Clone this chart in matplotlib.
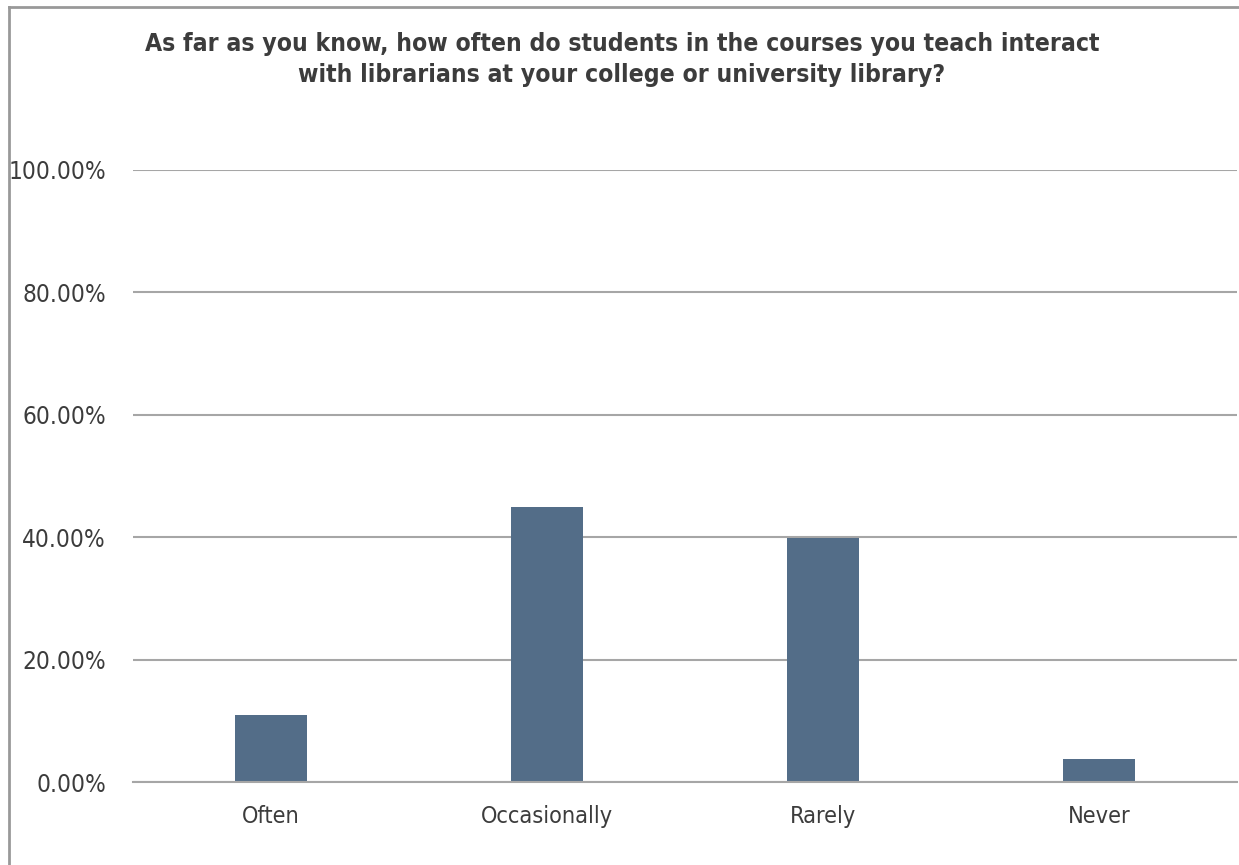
import matplotlib
matplotlib.use("Agg")
import matplotlib.pyplot as plt
from matplotlib.lines import Line2D
from matplotlib.ticker import PercentFormatter

categories = ["Often", "Occasionally", "Rarely", "Never"]
shares = [11.0, 45.0, 39.9, 3.8]
y_ticks = [0, 20, 40, 60, 80, 100]

title_lines = ["As far as you know, how often do students in the courses you teach interact",
               "with librarians at your college or university library?"]

plt.rcParams['font.family'] = ['DejaVu Sans']
plt.rcParams['font.stretch'] = 'condensed'
text_color = "#3c3c3c"
grid_color = "#a6a6a6"
bar_color = "#536d88"

W, H = 1239, 865
fig = plt.figure(figsize=(W / 100, H / 100), dpi=100)
ax = fig.add_axes([133 / W, 82.7 / H, 1104 / W, 612.7 / H])

x = range(len(categories))
ax.bar(x, shares, width=0.26, color=bar_color, zorder=3)

ax.set_xlim(-0.5, len(categories) - 0.5)
ax.set_ylim(0, 100)
ax.set_yticks(y_ticks)
ax.yaxis.set_major_formatter(PercentFormatter(decimals=2))
ax.set_xticks(list(x))
ax.set_xticklabels(categories)

ax.grid(axis="y", color=grid_color, linewidth=1.5, zorder=0)
for side in ["top", "right", "left"]:
    ax.spines[side].set_visible(False)
ax.spines["bottom"].set_color(grid_color)
ax.spines["bottom"].set_linewidth(1.5)
ax.spines["bottom"].set_zorder(4)

ax.tick_params(axis="y", length=0, pad=19.5, labelsize=17.5, labelcolor=text_color)
ax.tick_params(axis="x", length=0, pad=16.5, labelsize=16.8, labelcolor=text_color)

# title, two centred lines
for line, base in zip(title_lines, [51, 82]):
    fig.text(622 / W, 1 - base / H, line, ha="center", va="baseline",
             fontsize=17.7, color=text_color, fontweight="bold")

# outer chart frame (only top and left edges visible in the crop)
fig.add_artist(Line2D([8.5 / W, 8.5 / W], [0, 1 - 6.5 / H],
                      transform=fig.transFigure, color="#999999", linewidth=2))
fig.add_artist(Line2D([8.5 / W, 1], [1 - 6.5 / H, 1 - 6.5 / H],
                      transform=fig.transFigure, color="#999999", linewidth=2))

fig.savefig("out.png", dpi=100)
